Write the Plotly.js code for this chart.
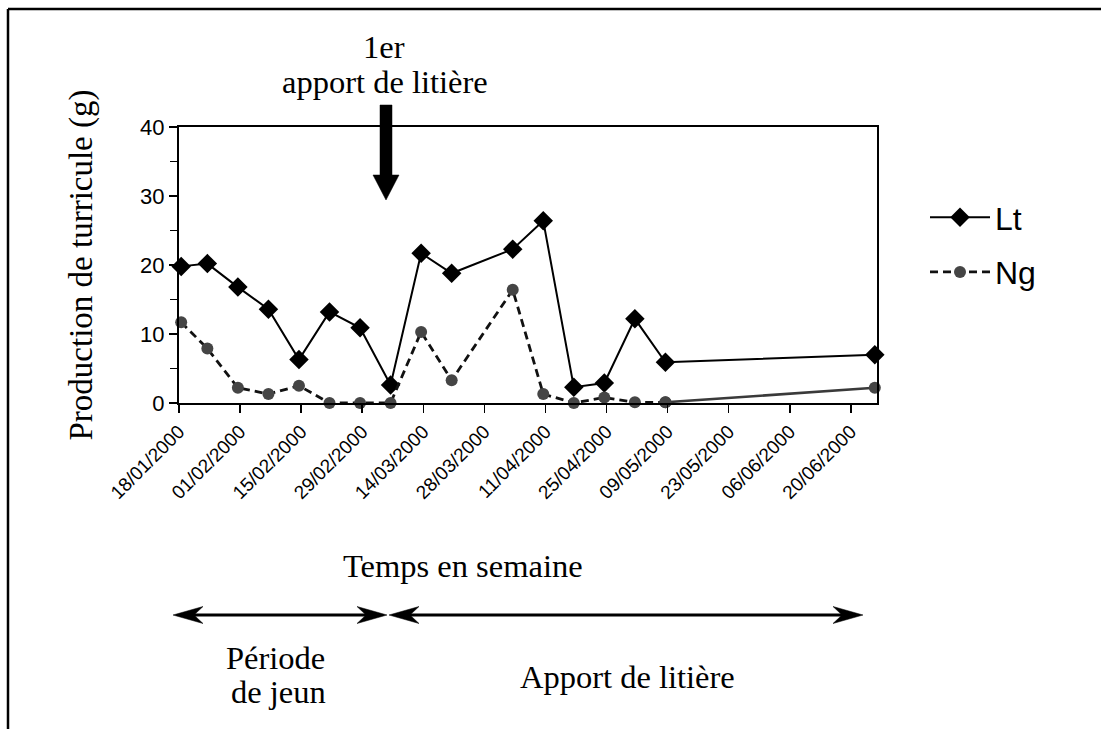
<!DOCTYPE html>
<html>
<head>
<meta charset="utf-8">
<script src="https://cdn.plot.ly/plotly-3.0.1.min.js"></script>
<style>html,body{margin:0;padding:0;background:#fff;}#chart{width:1101px;height:729px;}</style>
</head>
<body>
<div id="chart"></div>
<script>
// ---- data ----
const dates = ['2000-01-18','2000-01-24','2000-01-31','2000-02-07','2000-02-14','2000-02-21','2000-02-28',
  '2000-03-06','2000-03-13','2000-03-20','2000-04-03','2000-04-10','2000-04-17','2000-04-24',
  '2000-05-01','2000-05-08','2000-06-25'];
const lt = [19.8,20.2,16.8,13.6,6.3,13.2,10.9,2.6,21.7,18.8,22.3,26.4,2.3,2.9,12.2,5.9,7.0];
const ng = [11.7,7.9,2.2,1.3,2.5,0,0,0,10.3,3.3,16.4,1.3,0,0.8,0.1,0.1,2.2];
const seriesNames = ['Lt','Ng'];
const axisStart = '2000-01-18';
const axisEnd = '2000-06-26';

// points sit in the middle of their day, as in the original date axis
const xs = dates.map(d => d + ' 12:00');
const nDashed = 16; // Ng is dashed up to 08/05, the last segment is solid

const SANS = 'Liberation Sans, Arial, sans-serif';
const SERIF = 'Liberation Serif, Times New Roman, serif';

const traces = [
  {x: xs, y: lt, name: seriesNames[0], type: 'scatter', mode: 'lines+markers', cliponaxis: false,
   legendgroup: 'a',
   line: {color: '#000', width: 2},
   marker: {symbol: 'diamond', size: 15, color: '#000'}},
  {x: xs.slice(0, nDashed), y: ng.slice(0, nDashed), name: seriesNames[1], type: 'scatter',
   mode: 'lines+markers', cliponaxis: false, legendgroup: 'b',
   line: {color: '#111', width: 2.8, dash: '8px,5px'},
   marker: {symbol: 'circle', size: 12, color: '#454545'}},
  {x: xs.slice(nDashed - 1), y: ng.slice(nDashed - 1), name: seriesNames[1], type: 'scatter',
   mode: 'lines+markers', cliponaxis: false, showlegend: false, legendgroup: 'b',
   line: {color: '#3a3a3a', width: 2.5},
   marker: {symbol: 'circle', size: 12, color: '#454545'}}
];

// plot area in pixels
const L = 179, R = 877, T = 127, B = 403;
const W = 1101, H = 729;
const fx = p => (p - L) / (R - L);
const fy = p => (B - p) / (B - T);
const pathOf = pts => 'M' + pts.map(p => fx(p[0]) + ',' + fy(p[1])).join('L') + 'Z';

function headRight(tx, ty) { return pathOf([[tx, ty], [tx - 30, ty - 8.5], [tx - 21, ty], [tx - 30, ty + 8.5]]); }
function headLeft(tx, ty) { return pathOf([[tx, ty], [tx + 30, ty - 8.5], [tx + 21, ty], [tx + 30, ty + 8.5]]); }

const ay = 615;
const shapes = [
  // outer frame (top and left)
  {type: 'line', xref: 'paper', yref: 'paper', x0: fx(8), x1: fx(W + 2), y0: fy(9), y1: fy(9), line: {color: '#000', width: 2.5}},
  {type: 'line', xref: 'paper', yref: 'paper', x0: fx(8), x1: fx(8), y0: fy(9), y1: fy(H + 2), line: {color: '#000', width: 2.5}},
  // big arrow: 1st litter input
  {type: 'path', xref: 'paper', yref: 'paper', fillcolor: '#000', line: {color: '#000', width: 0.5},
   path: pathOf([[380, 105], [392, 105], [392, 175], [399, 175], [386, 200], [373, 175], [380, 175]])},
  // period arrows
  {type: 'line', xref: 'paper', yref: 'paper', x0: fx(190), x1: fx(372), y0: fy(ay), y1: fy(ay), line: {color: '#000', width: 3}},
  {type: 'path', xref: 'paper', yref: 'paper', fillcolor: '#000', line: {color: '#000', width: 0.5}, path: headLeft(173, ay)},
  {type: 'path', xref: 'paper', yref: 'paper', fillcolor: '#000', line: {color: '#000', width: 0.5}, path: headRight(387, ay)},
  {type: 'line', xref: 'paper', yref: 'paper', x0: fx(405), x1: fx(847), y0: fy(ay), y1: fy(ay), line: {color: '#000', width: 3}},
  {type: 'path', xref: 'paper', yref: 'paper', fillcolor: '#000', line: {color: '#000', width: 0.5}, path: headLeft(389, ay)},
  {type: 'path', xref: 'paper', yref: 'paper', fillcolor: '#000', line: {color: '#000', width: 0.5}, path: headRight(863, ay)}
];

const txt = (t, x, y) => ({text: t, xref: 'paper', yref: 'paper', x: fx(x), y: fy(y),
  xanchor: 'center', yanchor: 'middle', showarrow: false, font: {family: SERIF, size: 32.5, color: '#000'}});

const annotations = [
  txt('1er', 384, 47),
  txt('apport de litière', 385, 82),
  txt('Temps en semaine', 463, 566),
  txt('Période', 275, 658),
  txt('de jeun', 278, 692),
  txt('Apport de litière', 627, 677)
];

const layout = {
  width: W, height: H,
  margin: {l: L, r: W - R, t: T, b: H - B, pad: 0},
  paper_bgcolor: '#fff', plot_bgcolor: '#fff',
  showlegend: true,
  legend: {x: fx(925), y: fy(190), xanchor: 'left', yanchor: 'top', font: {family: SANS, size: 32, color: '#000'},
    itemwidth: 60, traceorder: 'grouped', tracegroupgap: 10, bgcolor: 'rgba(0,0,0,0)'},
  xaxis: {type: 'date', range: [axisStart, axisEnd], tick0: axisStart, dtick: 14 * 86400000,
    tickformat: '%d/%m/%Y', tickangle: -45, ticks: 'outside', ticklen: 8, tickwidth: 1.5, tickcolor: '#000',
    showgrid: false, zeroline: false, showline: true, linecolor: '#000', linewidth: 2, mirror: true,
    tickfont: {family: SANS, size: 19, color: '#000'}, automargin: false, fixedrange: true},
  yaxis: {range: [0, 40], dtick: 10, ticks: 'outside', ticklen: 8, tickwidth: 1.5, tickcolor: '#000',
    minor: {dtick: 5, ticks: 'outside', ticklen: 7, tickwidth: 1.5, tickcolor: '#000', showgrid: false},
    showgrid: false, zeroline: false, showline: true, linecolor: '#000', linewidth: 2, mirror: true,
    tickfont: {family: SANS, size: 22, color: '#000'}, automargin: false, fixedrange: true,
    title: {text: 'Production de turricule (g)', font: {family: SERIF, size: 33, color: '#000'}, standoff: 38}},
  shapes: shapes,
  annotations: annotations
};

Plotly.newPlot('chart', traces, layout, {displayModeBar: false, staticPlot: true});
</script>
</body>
</html>
